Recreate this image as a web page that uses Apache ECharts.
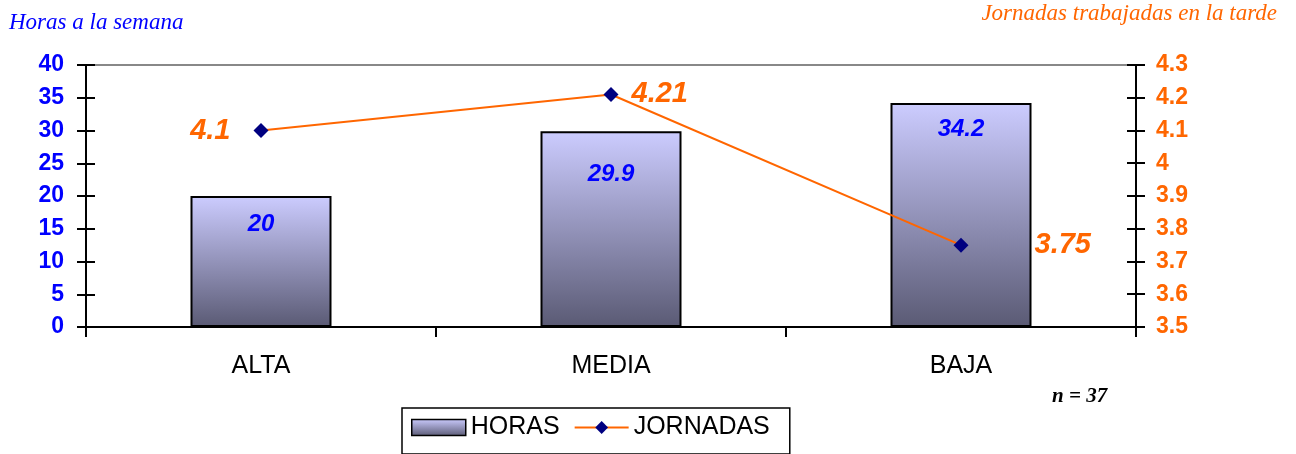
<!DOCTYPE html>
<html><head><meta charset="utf-8">
<script src="https://cdn.jsdelivr.net/npm/echarts@6/dist/echarts.min.js"></script>
<style>html,body{margin:0;padding:0;background:#fff}#c{width:1296px;height:454px}</style>
</head><body><div id="c"></div>
<script>
const categories = ['ALTA', 'MEDIA', 'BAJA'];
const horas = [20, 29.9, 34.2];
const jornadas = [4.1, 4.21, 3.75];
const leftTicks = [0, 40, 5];
const rightTicks = [3.5, 4.3, 0.1];

const chart = echarts.init(document.getElementById('c'));
const barGrad = new echarts.graphic.LinearGradient(0, 0, 0, 1, [
  {offset: 0, color: '#CCCCFF'}, {offset: 1, color: '#5A5A74'}]);
const lineLabelPos = [
  {position: 'left', distance: 23},
  {position: 'right', distance: 13},
  {position: 'right', distance: 66}
];
const barLabelDist = [16, 31, 14];
const fmt1 = v => String(v);
chart.setOption({
  animation: false,
  grid: {left: 86, right: 160, top: 65, bottom: 127},
  title: [
    {text: 'Horas a la semana', left: 9, top: 11, padding: 0, textStyle: {fontFamily: 'Liberation Serif', fontStyle: 'italic', fontWeight: 'normal', fontSize: 23, color: '#0000FF'}},
    {text: 'Jornadas trabajadas en la tarde', right: 19, top: 2, padding: 0, textStyle: {fontFamily: 'Liberation Serif', fontStyle: 'italic', fontWeight: 'normal', fontSize: 23, color: '#FF6600'}},
    {text: 'n = 37', left: 1052, top: 386, padding: 0, textStyle: {fontFamily: 'Liberation Serif', fontStyle: 'italic', fontWeight: 'bold', fontSize: 21, color: '#000'}}
  ],
  legend: {
    top: 408, left: 402,
    padding: [7, 20, 14, 9],
    borderColor: '#000', borderWidth: 1.5,
    itemGap: 14,
    itemWidth: 54, itemHeight: 16,
    textStyle: {fontFamily: 'Liberation Sans', fontSize: 25, color: '#000'},
    data: [
      {name: 'HORAS', icon: 'rect', itemStyle: {borderColor: '#000', borderWidth: 1.5}},
      {name: 'JORNADAS'}
    ]
  },
  xAxis: {
    type: 'category', data: categories,
    axisLine: {lineStyle: {color: '#000', width: 2}},
    axisTick: {show: true, length: 10, lineStyle: {color: '#000', width: 2}, alignWithLabel: false},
    axisLabel: {margin: 27, fontFamily: 'Liberation Sans', fontSize: 25, color: '#000'}
  },
  yAxis: [
    {type: 'value', position: 'left', min: leftTicks[0], max: leftTicks[1], interval: leftTicks[2],
     axisLine: {show: true, lineStyle: {color: '#000', width: 2}},
     axisTick: {show: true, length: 9, lineStyle: {color: '#000', width: 2}},
     axisLabel: {margin: 22, fontFamily: 'Liberation Sans', fontWeight: 'bold', fontSize: 23, color: '#0000FF'},
     splitLine: {show: false}},
    {type: 'value', position: 'right', min: rightTicks[0], max: rightTicks[1], interval: rightTicks[2],
     axisLine: {show: true, lineStyle: {color: '#000', width: 2}},
     axisTick: {show: true, length: 9, lineStyle: {color: '#000', width: 2}},
     axisLabel: {margin: 20, fontFamily: 'Liberation Sans', fontWeight: 'bold', fontSize: 23, color: '#FF6600',
       formatter: v => String(Math.round(v * 10) / 10)},
     splitLine: {show: false}},
    {type: 'value', position: 'left', min: leftTicks[0], max: leftTicks[1], interval: leftTicks[2],
     axisLine: {show: false}, axisLabel: {show: false}, splitLine: {show: false},
     axisTick: {show: true, inside: true, length: 9, lineStyle: {color: '#000', width: 2}}},
    {type: 'value', position: 'right', min: rightTicks[0], max: rightTicks[1], interval: rightTicks[2],
     axisLine: {show: false}, axisLabel: {show: false}, splitLine: {show: false},
     axisTick: {show: true, inside: true, length: 9, lineStyle: {color: '#000', width: 2}}}
  ],
  graphic: [
    {type: 'line', shape: {x1: 86, y1: 65, x2: 1136, y2: 65}, style: {stroke: '#888', lineWidth: 2}, z: 0}
  ],
  series: [
    {name: 'HORAS', type: 'bar', yAxisIndex: 0, barWidth: 141,
     itemStyle: {color: barGrad, borderColor: '#000', borderWidth: 2},
     data: horas.map((v, i) => ({value: v, label: {distance: barLabelDist[i]}})),
     label: {show: true, position: 'insideTop', formatter: p => fmt1(p.value),
       fontFamily: 'Liberation Sans', fontWeight: 'bold', fontStyle: 'italic', fontSize: 24, color: '#0000FF'}},
    {name: 'JORNADAS', type: 'line', yAxisIndex: 1,
     lineStyle: {color: '#FF6600', width: 2}, itemStyle: {color: '#000080'},
     symbol: 'diamond', symbolSize: 15,
     data: jornadas.map((v, i) => ({value: v, label: lineLabelPos[i]})),
     label: {show: true, formatter: p => fmt1(p.value),
       fontFamily: 'Liberation Sans', fontWeight: 'bold', fontStyle: 'italic', fontSize: 29, color: '#FF6600'}}
  ]
});
</script></body></html>
